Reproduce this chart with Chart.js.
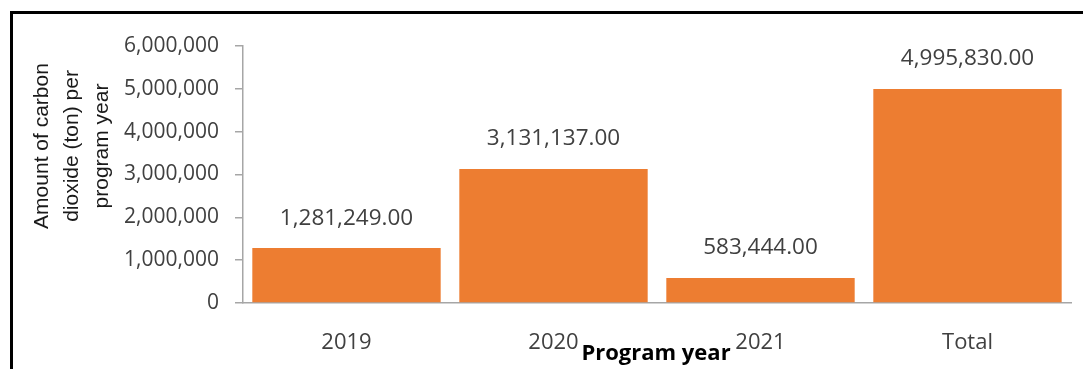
<!DOCTYPE html>
<html>
<head>
<meta charset="utf-8">
<script src="https://cdn.jsdelivr.net/npm/chart.js@4.4.1/dist/chart.umd.min.js"></script>
<style>
  html, body { margin: 0; padding: 0; background: #fff; }
  #wrap { position: relative; width: 1083px; height: 369px; overflow: hidden; }
  #frame { position: absolute; left: 10px; top: 11px; right: -5px; bottom: -5px;
           border-left: 3px solid #000; border-top: 3px solid #000; pointer-events: none; }
  canvas { position: absolute; left: 0; top: 0; }
</style>
</head>
<body>
<div id="wrap">
  <canvas id="chart" width="1083" height="369"></canvas>
  <div id="frame"></div>
</div>
<script>
// Data
const categories = ["2019", "2020", "2021", "Total"];
const co2Tons = [1281249, 3131137, 583444, 4995830];
const yTicks = [0, 1000000, 2000000, 3000000, 4000000, 5000000, 6000000];
const yTitleLines = ["Amount of carbon", "dioxide (ton) per", "program year"];
const xTitle = "Program year";

const FONT = "'Open Sans', sans-serif";
const TITLE_FONT = "'Liberation Sans', Arial, sans-serif";
const TEXT = "#404040";
const AXIS = "#a6a6a6";

const fmt = (v, d) => v.toLocaleString("en-US", { minimumFractionDigits: d, maximumFractionDigits: d });

// value labels above each bar
const valueLabels = {
  id: "valueLabels",
  afterDatasetsDraw(chart) {
    const ctx = chart.ctx;
    const meta = chart.getDatasetMeta(0);
    ctx.save();
    ctx.font = "22.5px " + FONT;
    ctx.fillStyle = TEXT;
    ctx.textAlign = "center";
    ctx.textBaseline = "middle";
    meta.data.forEach((bar, i) => {
      ctx.fillText(fmt(chart.data.datasets[0].data[i], 2), bar.x, bar.y - 30);
    });
    ctx.restore();
  },
};

// axis titles placed the way the original office chart has them
const axisTitles = {
  id: "axisTitles",
  afterDraw(chart) {
    const ctx = chart.ctx;
    ctx.save();
    ctx.fillStyle = "#1a1a1a";
    ctx.textAlign = "center";
    ctx.textBaseline = "middle";
    ctx.font = "21px " + TITLE_FONT;
    ctx.translate(72, 146);
    ctx.rotate(-Math.PI / 2);
    yTitleLines.forEach((line, i) => {
      ctx.fillText(line, 0, (i - 1) * 30);
    });
    ctx.restore();

    ctx.save();
    ctx.fillStyle = "#000";
    ctx.font = "bold 22px " + FONT;
    ctx.textAlign = "center";
    ctx.textBaseline = "middle";
    ctx.fillText(xTitle, 656, 354);
    ctx.restore();
  },
};

new Chart(document.getElementById("chart"), {
  type: "bar",
  data: {
    labels: categories,
    datasets: [
      {
        data: co2Tons,
        backgroundColor: "#ed7d31",
        borderWidth: 0,
        barPercentage: 0.91,
        categoryPercentage: 1,
      },
    ],
  },
  options: {
    responsive: false,
    animation: false,
    layout: { padding: { top: 46, right: 12, left: 0, bottom: 0 } },
    plugins: {
      legend: { display: false },
      tooltip: { enabled: false },
    },
    scales: {
      x: {
        grid: { display: false },
        border: { color: AXIS, width: 1.5 },
        ticks: { color: TEXT, font: { family: FONT, size: 22 }, padding: 19 },
        afterFit(scale) { scale.height = 66; },
      },
      y: {
        min: 0,
        max: 6000000,
        afterBuildTicks(scale) { scale.ticks = yTicks.map((v) => ({ value: v })); },
        grid: { drawOnChartArea: false, drawTicks: true, tickLength: 8, color: AXIS, lineWidth: 1.5 },
        border: { color: AXIS, width: 1.5 },
        ticks: { color: TEXT, font: { family: FONT, size: 21 }, padding: 16, callback: (v) => fmt(v, 0) },
        afterFit(scale) { scale.width = 243; },
      },
    },
  },
  plugins: [valueLabels, axisTitles],
});
</script>
</body>
</html>
